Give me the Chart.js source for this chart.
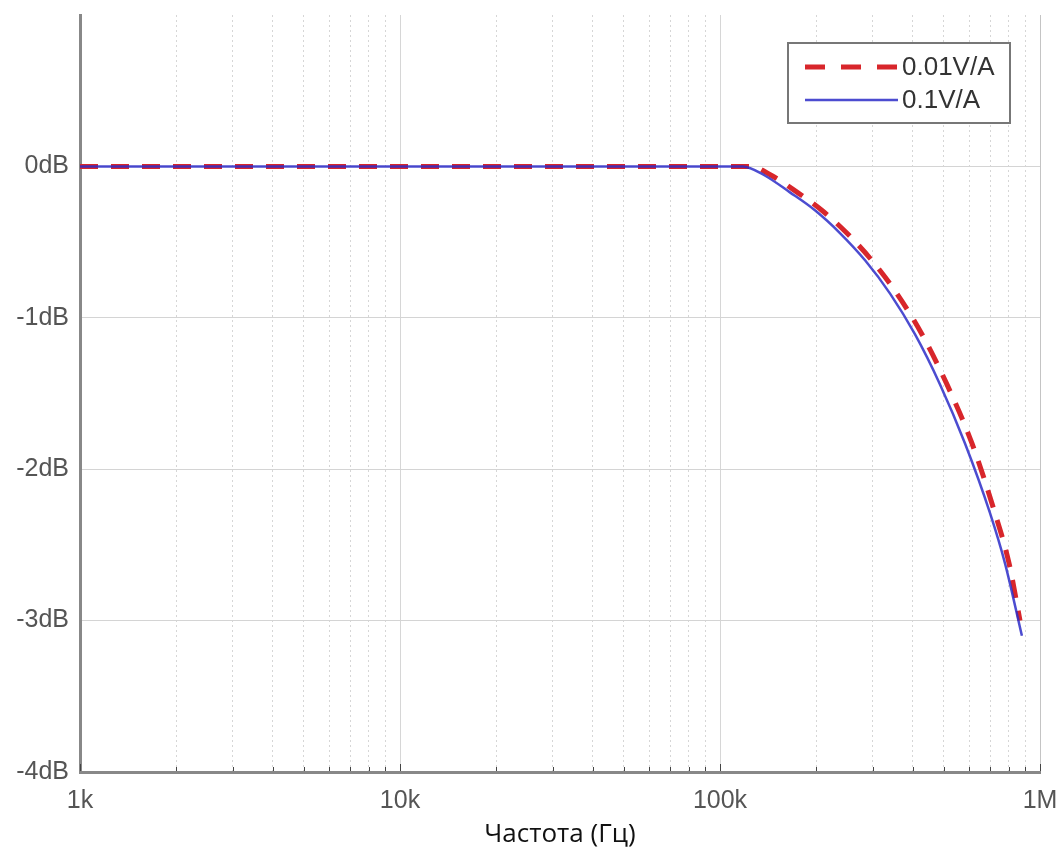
<!DOCTYPE html>
<html>
<head>
<meta charset="utf-8">
<script src="https://cdn.jsdelivr.net/npm/chart.js@4"></script>
<style>
    html, body { margin: 0; padding: 0; background: #fff; }
    #wrap { width: 1061px; height: 852px; position: relative; }
</style>
</head>
<body>
<div id="wrap"><canvas id="bode"></canvas></div>
<script>
// частота, Гц / уровень, дБ
const freq001 = [1000, 125000, 145000, 174000, 208000, 249000, 298000, 357000, 428000, 512000, 613000, 723000, 800000, 866000];
const gain001 = [0, 0, -0.06, -0.17, -0.29, -0.44, -0.62, -0.84, -1.11, -1.44, -1.83, -2.29, -2.62, -3.0];
const freq01 = [1000, 118000, 138000, 165000, 198000, 237000, 284000, 340000, 407000, 487000, 583000, 698000, 777000, 878000];
const gain01 = [0, 0, -0.06, -0.17, -0.29, -0.44, -0.62, -0.84, -1.11, -1.44, -1.83, -2.29, -2.62, -3.1];

const seriesNames = ['0.01V/A', '0.1V/A'];
const xTickValues = [1000, 10000, 100000, 1000000];
const xTickLabels = ['1k', '10k', '100k', '1M'];
const yTickValues = [-4, -3, -2, -1, 0];
const yTickLabels = ['-4dB', '-3dB', '-2dB', '-1dB', '0dB'];

const toPoints = (xs, ys) => xs.map((x, i) => ({ x: x, y: ys[i] }));

// мелкие засечки внутрь по оси X + легенда в рамке
const extras = {
    id: 'extras',
    afterDraw(chart) {
        const ctx = chart.ctx;
        const xs = chart.scales.x;
        const bottom = chart.chartArea.bottom;
        ctx.save();
        ctx.strokeStyle = '#444';
        ctx.lineWidth = 1;
        xs.ticks.forEach(t => {
            const px = Math.round(xs.getPixelForValue(t.value)) + 0.5;
            const len = xTickValues.includes(t.value) ? 7 : 4;
            ctx.beginPath();
            ctx.moveTo(px, bottom - 1);
            ctx.lineTo(px, bottom - 1 - len);
            ctx.stroke();
        });

        // легенда
        const bx = 788, by = 43, bw = 222, bh = 80;
        ctx.fillStyle = '#fff';
        ctx.fillRect(bx, by, bw, bh);
        ctx.strokeStyle = '#777';
        ctx.lineWidth = 2;
        ctx.strokeRect(bx, by, bw, bh);
        ctx.font = '26px "Liberation Sans", Arial, sans-serif';
        ctx.textBaseline = 'middle';
        chart.data.datasets.forEach((ds, i) => {
            const ly = by + 24 + i * 33;
            ctx.strokeStyle = ds.borderColor;
            ctx.lineWidth = ds.borderWidth;
            ctx.setLineDash(ds.borderDash ? [20, 16] : []);
            ctx.beginPath();
            ctx.moveTo(805, ly);
            ctx.lineTo(898, ly);
            ctx.stroke();
            ctx.setLineDash([]);
            ctx.fillStyle = '#333';
            ctx.fillText(ds.label, 902, ly + 1);
        });
        ctx.restore();
    }
};

new Chart(document.getElementById('bode'), {
    type: 'line',
    data: {
        datasets: [
            {
                label: seriesNames[0],
                data: toPoints(freq001, gain001),
                borderColor: '#d8262b',
                borderWidth: 5,
                borderDash: [18, 13],
                pointRadius: 0,
                cubicInterpolationMode: 'monotone',
                order: 2
            },
            {
                label: seriesNames[1],
                data: toPoints(freq01, gain01),
                borderColor: 'rgba(45, 45, 200, 0.85)',
                borderWidth: 2.5,
                pointRadius: 0,
                cubicInterpolationMode: 'monotone',
                order: 1
            }
        ]
    },
    options: {
        responsive: true,
        maintainAspectRatio: false,
        animation: false,
        layout: { padding: { top: 15, right: 21, left: 0, bottom: 0 } },
        plugins: {
            legend: { display: false },
            tooltip: { enabled: false }
        },
        scales: {
            x: {
                type: 'logarithmic',
                min: 1000,
                max: 1000000,
                afterBuildTicks: scale => {
                    const ticks = [];
                    for (let d = 1000; d < 1000000; d *= 10) {
                        for (let m = 1; m < 10; m++) ticks.push({ value: d * m });
                    }
                    ticks.push({ value: 1000000 });
                    scale.ticks = ticks;
                },
                afterFit: scale => {
                    scale.height = 80;
                    scale.paddingLeft = 0;
                    scale.paddingRight = 0;
                },
                ticks: {
                    autoSkip: false,
                    maxRotation: 0,
                    padding: 14,
                    color: '#555',
                    font: { family: '"Liberation Sans", Arial, sans-serif', size: 25 },
                    callback: v => {
                        const i = xTickValues.indexOf(v);
                        return i >= 0 ? xTickLabels[i] : '';
                    }
                },
                grid: {
                    drawTicks: false,
                    lineWidth: 1,
                    color: ctx => {
                        const v = ctx.tick ? ctx.tick.value : 0;
                        if (v === 1000) return 'rgba(0,0,0,0)';
                        if (v === 1000000) return '#c4c4c4';
                        return '#d6d6d6';
                    }
                },
                border: {
                    color: '#888',
                    width: 3,
                    dash: ctx => {
                        const v = ctx.tick ? ctx.tick.value : 0;
                        return xTickValues.includes(v) ? [] : [2, 3];
                    }
                },
                title: {
                    display: true,
                    text: 'Частота (Гц)',
                    color: '#111',
                    font: { family: '"Open Sans", sans-serif', size: 26 },
                    padding: { top: 0, bottom: 2 }
                }
            },
            y: {
                type: 'linear',
                min: -4,
                max: 1,
                afterFit: scale => {
                    scale.width = 80;
                    scale.paddingTop = 0;
                    scale.paddingBottom = 0;
                },
                ticks: {
                    stepSize: 1,
                    padding: 11,
                    color: '#555',
                    font: { family: '"Liberation Sans", Arial, sans-serif', size: 25 },
                    callback: v => {
                        const i = yTickValues.indexOf(v);
                        return i >= 0 ? yTickLabels[i] : '';
                    }
                },
                grid: {
                    drawTicks: false,
                    lineWidth: 1,
                    color: ctx => {
                        const v = ctx.tick ? ctx.tick.value : 0;
                        return (v === 1 || v === -4) ? 'rgba(0,0,0,0)' : '#d4d4d4';
                    }
                },
                border: { color: '#888', width: 3 }
            }
        }
    },
    plugins: [extras]
});
</script>
</body>
</html>
